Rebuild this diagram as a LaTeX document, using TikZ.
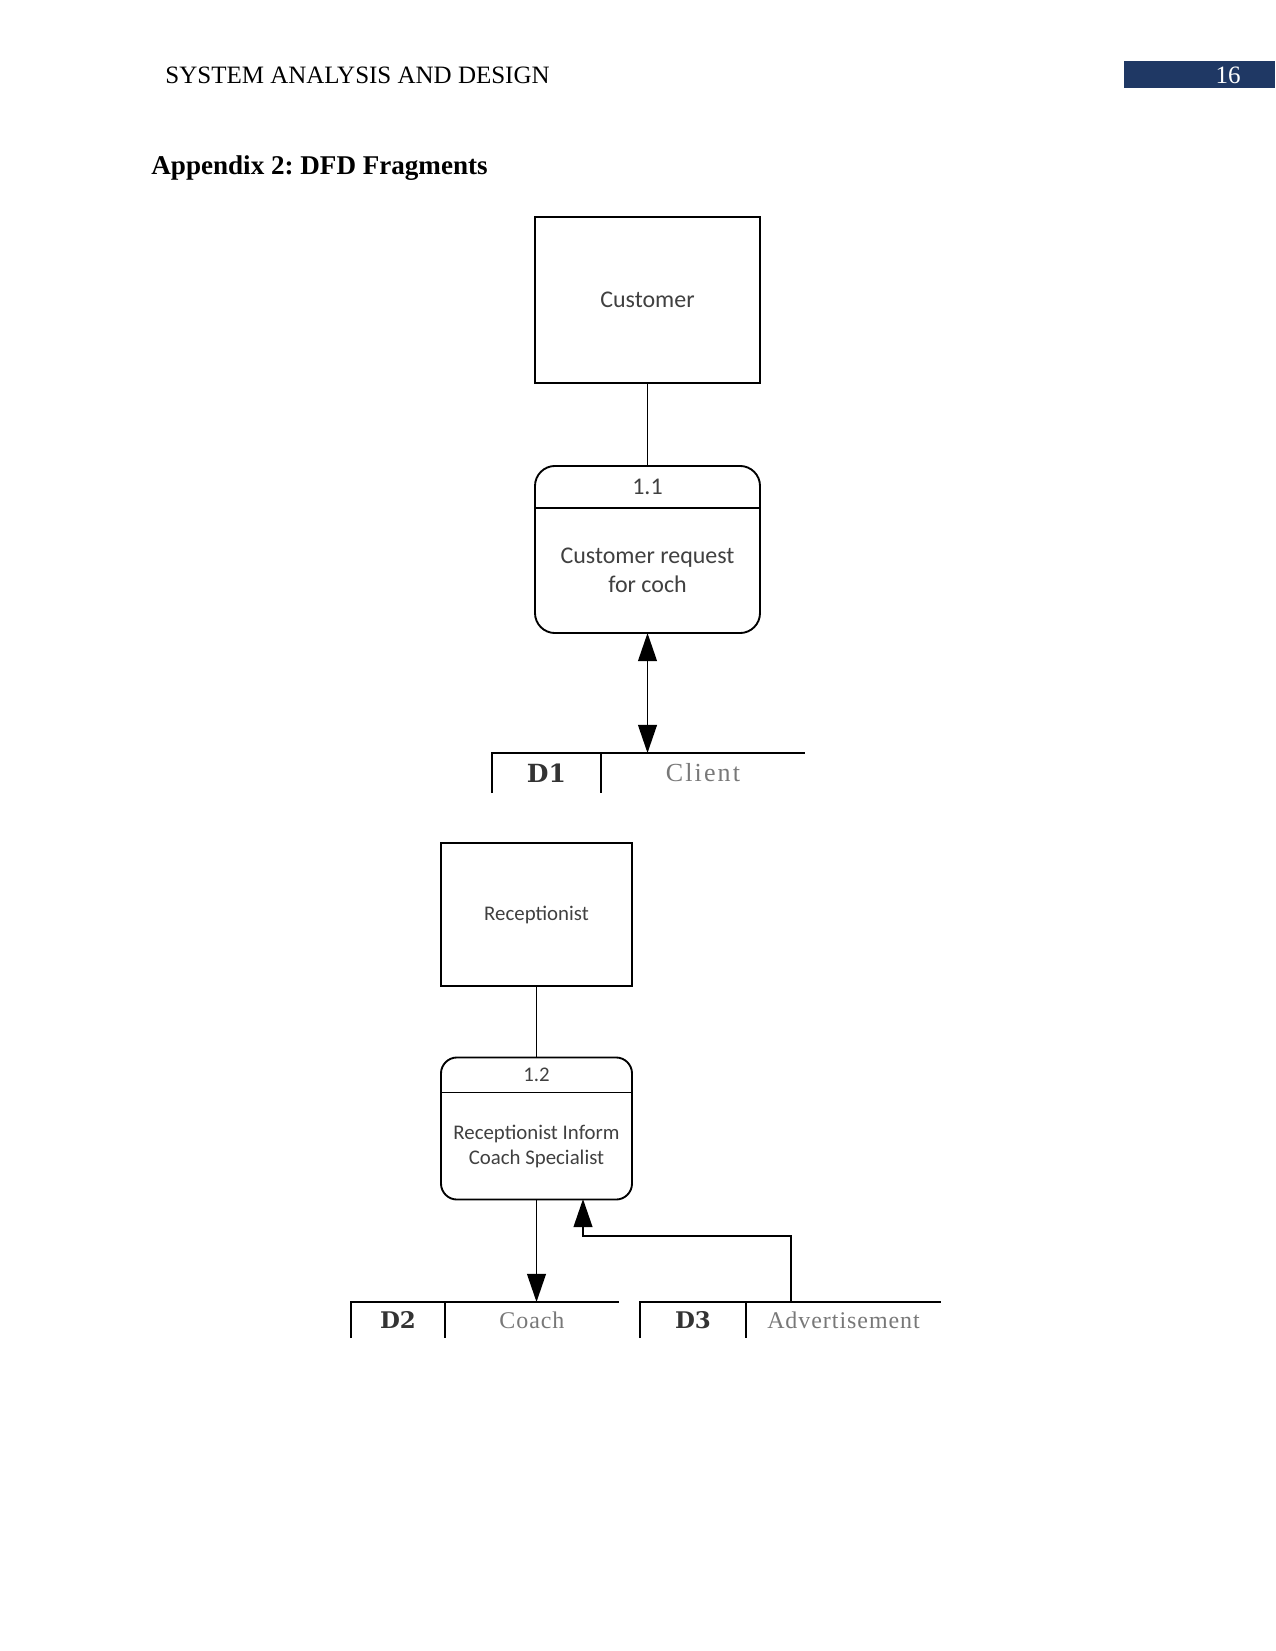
\documentclass[tikz,border=0pt]{standalone}
\usepackage{fontspec}
\setmainfont{Liberation Serif}
\newfontfamily\dfdfont{Carlito}
\newfontfamily\sidfont{DejaVu Serif}
\newfontfamily\snamefont{Liberation Serif}
\usepackage{tikz}
\usetikzlibrary{arrows.meta,positioning,calc}
\definecolor{hdrBlue}{RGB}{31,56,100}
\definecolor{txtGray}{RGB}{64,64,64}
\definecolor{lightGray}{RGB}{120,120,120}

\begin{document}
\frenchspacing
\begin{tikzpicture}[
  x=0.48pt, y=-0.48pt,
  ext/.style={draw=black, line width=0.9pt, outer sep=0pt, font=\dfdfont\fontsize{11.5}{13.8}\selectfont, text=txtGray},
  proc/.style={draw=black, line width=0.9pt, rounded corners=9.6pt, outer sep=0pt},
  pid/.style={inner sep=0pt, outer sep=0pt, font=\dfdfont\fontsize{11.5}{13.8}\selectfont, text=txtGray},
  ptext/.style={align=center, inner sep=0pt, font=\dfdfont\fontsize{11.5}{13.8}\selectfont, text=txtGray},
  sid/.style={inner sep=0pt, outer sep=0pt, font=\sidfont\bfseries\fontsize{12}{14}\selectfont, text=txtGray!80!black},
  sidsm/.style={sid, font=\sidfont\bfseries\fontsize{11}{13}\selectfont},
  sname/.style={inner sep=0pt, outer sep=0pt, font=\snamefont\addfontfeatures{LetterSpace=8}\fontsize{12.5}{14}\selectfont, text=lightGray},
  snamesm/.style={sname, font=\snamefont\addfontfeatures{LetterSpace=4}\fontsize{11.5}{14}\selectfont},
  line/.style={draw=black, line width=0.9pt},
  arr/.style={line, -{Triangle[length=13.5pt,width=9pt]}},
  barr/.style={line, {Triangle[length=13.5pt,width=9pt]}-{Triangle[length=13.5pt,width=9pt]}}
]
  \useasboundingbox (0,0) rectangle (1275,1651);

  % page header
  \node[anchor=west, inner sep=0pt, font=\fontsize{12}{14}\selectfont] (hdr) at (165,75) {SYSTEM ANALYSIS AND DESIGN};
  \fill[hdrBlue] (1124,61) rectangle (1275,88);
  \node[text=white, inner sep=0pt, font=\fontsize{12}{14}\selectfont] (pg) at (1228,75) {16};
  \node[anchor=west, inner sep=0pt, font=\bfseries\fontsize{13}{15}\selectfont] (title) at (151,168) {Appendix 2: DFD Fragments};

  % fragment 1.1
  \node[ext, minimum width=108pt, minimum height=79.7pt] (cust) at (647.5,300) {Customer};
  \node[proc, minimum width=108pt, minimum height=80.2pt] (p11) at (647.5,549.5) {};
  \node[pid, minimum width=108pt, minimum height=20.2pt, anchor=north] (p11id) at (p11.north) {1.1};
  \draw[line] (p11id.south west) -- (p11id.south east);
  \node[ptext] (p11t) at ($(p11id.south)!0.5!(p11.south)$) {Customer request\\for coch};
  \node[sid, minimum width=52.3pt, minimum height=19.2pt] (d1) at (546.5,773) {D1};
  \node[sname, minimum width=97.9pt, minimum height=19.2pt, right=0pt of d1] (d1n) {Client};
  \draw[line] (d1.south west) -- (d1.north west) -- (d1n.north east);
  \draw[line] (d1.north east) -- (d1.south east);

  \draw[line] (cust) -- (p11);
  \draw[barr] (p11.south) -- (p11.south |- d1n.north);

  % fragment 1.2
  \node[ext, font=\dfdfont\fontsize{10}{12}\selectfont, minimum width=91.7pt, minimum height=68.6pt] (recp) at (536.5,914.5) {Receptionist};
  \node[proc, rounded corners=7.7pt, minimum width=91.7pt, minimum height=68.2pt] (p12) at (536.5,1128.5) {};
  \node[pid, font=\dfdfont\fontsize{10}{12}\selectfont, minimum width=91.7pt, minimum height=16.8pt, anchor=north] (p12id) at (p12.north) {1.2};
  \draw[line] (p12id.south west) -- (p12id.south east);
  \node[ptext, font=\dfdfont\fontsize{10}{12}\selectfont] (p12t) at ($(p12id.south)!0.5!(p12.south)$) {Receptionist Inform\\Coach Specialist};
  \node[sidsm, minimum width=45.1pt, minimum height=17.3pt] (d2) at (398,1320) {D2};
  \node[snamesm, minimum width=83.5pt, minimum height=17.3pt, right=0pt of d2] (d2n) {Coach};
  \draw[line] (d2.south west) -- (d2.north west) -- (d2n.north east);
  \draw[line] (d2.north east) -- (d2.south east);
  \node[sidsm, minimum width=50.9pt, minimum height=17.3pt] (d3) at (693,1320) {D3};
  \node[snamesm, minimum width=93.6pt, minimum height=17.3pt, right=0pt of d3] (d3n) {Advertisement};
  \draw[line] (d3.south west) -- (d3.north west) -- (d3n.north east);
  \draw[line] (d3.north east) -- (d3.south east);
  \coordinate (adv) at (791,1302);
  \coordinate (elbow) at (791,1236);
  \coordinate (p12in) at (583,1199);

  \draw[line] (recp) -- (p12);
  \draw[arr] (p12.south) -- (p12.south |- d2n.north);
  \draw[arr] (adv) -- (elbow) -| (p12in);
\end{tikzpicture}
\end{document}
